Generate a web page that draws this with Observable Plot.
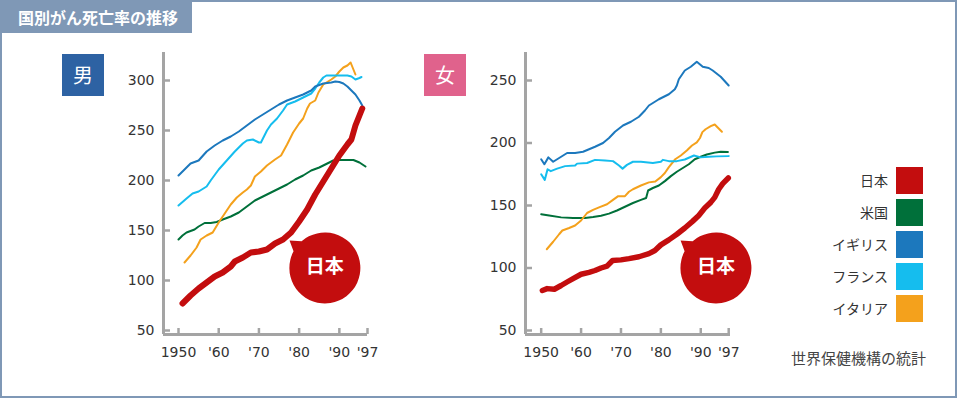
<!DOCTYPE html>
<html><head><meta charset="utf-8">
<script src="https://cdn.jsdelivr.net/npm/d3@7"></script>
<script src="https://cdn.jsdelivr.net/npm/@observablehq/plot@0.6"></script>
<style>
html,body{margin:0;padding:0;background:#fff;}
#wrap{position:relative;width:957px;height:398px;overflow:hidden;font-family:"Noto Sans CJK JP","Noto Sans",sans-serif;background:#fff;}
#border{position:absolute;left:0;top:0;width:957px;height:398px;box-sizing:border-box;border:2px solid #7f98b6;}
#title{position:absolute;left:0;top:0;width:192px;height:33px;background:#7f98b6;color:#fff;font-weight:bold;font-size:16px;line-height:34px;padding-left:18px;box-sizing:border-box;white-space:nowrap;}
.badge{position:absolute;top:54px;width:42px;height:42px;color:#fff;font-size:20px;line-height:42px;text-align:center;}
.plot{position:absolute;top:40px;}
.lg-label{position:absolute;left:760px;width:128px;text-align:right;font-size:14px;line-height:27px;color:#333;white-space:nowrap;}
.lg-sw{position:absolute;left:896px;width:27px;height:27px;}
#caption{position:absolute;left:770px;width:156px;text-align:right;top:349px;font-size:15px;line-height:18px;color:#444;white-space:nowrap;}
</style>
</head><body>
<div id="wrap">
  <div id="border"></div>
  <div id="title">国別がん死亡率の推移</div>
  <div class="badge" style="left:62px;background:#2d62a3;">男</div>
  <div class="badge" style="left:424px;background:#e0628c;">女</div>
  <div id="men" class="plot" style="left:100px;"></div>
  <div id="women" class="plot" style="left:460px;"></div>
  <div id="legend"></div>
  <div id="caption">世界保健機構の統計</div>
</div>
<script>
// ---- categories / labels ----
const seriesNames = ["日本", "米国", "イギリス", "フランス", "イタリア"];
const seriesColors = ["#c30d0e", "#00703a", "#1c78bd", "#15bdee", "#f4a11c"];
const xTickYears = [1950, 1960, 1970, 1980, 1990, 1997];
const xTickLabels = ["1950", "'60", "'70", "'80", "'90", "'97"];
const menYTicks = [50, 100, 150, 200, 250, 300];
const womenYTicks = [50, 100, 150, 200, 250];
const calloutLabel = "日本";

// ---- men (per 100,000) [year, value] ----
const menJapan = [[1951,77],[1953,85],[1955,92],[1957,98],[1959,104],[1961,108],[1963,114],[1964,119],[1966,123],[1968,128],[1970,129],[1972,131],[1974,137],[1976,141],[1978,148],[1980,159],[1982,171],[1984,186],[1986,199],[1988,212],[1990,225],[1992,236],[1993,241],[1994,255],[1995,265],[1995.7,272]];
const menUS = [[1950,141],[1951,145],[1952,148],[1954,151],[1955,154],[1956.5,157.5],[1958,157.5],[1959.5,158.5],[1961,161],[1963,164],[1965,168],[1967,174],[1969,180],[1971,184],[1973,188],[1975,192],[1977,196],[1979,201],[1981,205],[1983,210],[1985,213],[1987,217],[1988.5,220],[1990,220.5],[1992,220.5],[1993.5,220.5],[1995,218],[1996.5,214]];
const menUK = [[1950,205],[1952,213],[1953,217],[1955,220],[1957,229],[1959,235],[1961,240],[1963,244],[1965,249],[1967,255],[1969,261],[1971,266],[1973,271],[1975,276],[1977,280],[1979,283],[1981,286],[1983,290],[1984,294],[1986,297],[1988,298],[1989,299],[1990,298.5],[1991,297],[1992,294],[1993,290],[1994,286],[1995,280],[1995.7,275]];
const menFrance = [[1950,175],[1952,182],[1953.5,187],[1955,189],[1957,194],[1958,200],[1960,211],[1962,220],[1964,229],[1966,237],[1967,240],[1968.5,241],[1970,238],[1970.5,238],[1972,250],[1973,256],[1974.5,262],[1976,270],[1977,276],[1979,279],[1981,283],[1983,287],[1984,292],[1985,298],[1986,303],[1986.8,305],[1992,305],[1993,304],[1994,301],[1995,302.5],[1995.5,303.5]];
const menItaly = [[1951.5,118],[1953,125],[1954.5,133],[1955.5,141],[1957,145],[1958.5,148],[1960,158],[1961.5,167],[1963,176],[1964.5,183],[1966,188],[1967,191],[1968,195],[1969,204],[1970.5,209],[1972,215],[1974,221],[1975.5,225],[1977,236],[1978.5,248],[1980,257],[1981,262],[1982,272],[1982.7,277],[1984,280],[1984.8,288],[1986,296],[1988,301],[1989,304],[1990,309],[1991,313],[1992,315],[1992.8,318],[1994,306]];

// ---- women ----
const womenJapan = [[1950.3,82],[1951.5,83.5],[1953.3,83],[1955,86],[1956.6,89],[1958,91.5],[1960,95],[1962,96.5],[1963.5,98],[1965,100],[1966.5,101.5],[1967.9,106],[1970,106.5],[1972,107.5],[1974.5,109],[1977,111.5],[1978.5,114],[1980,118.5],[1982,122.5],[1984,127],[1986,132],[1988,137.5],[1989.5,142],[1991,148],[1992.5,152.5],[1993.5,156.5],[1994.5,163],[1995.5,167.5],[1996.9,172]];
const womenUS = [[1950,143],[1952,142],[1955,140.5],[1958,140],[1961,140],[1963,140.8],[1965,141.8],[1967,143.5],[1969,146],[1971,149],[1973,152],[1975,154.5],[1976.3,156],[1976.8,162],[1978,164],[1979.5,166],[1981,169.5],[1982.5,173.5],[1984,177],[1985.5,180],[1987,183],[1988.5,187],[1990,189],[1991.5,190.8],[1993.5,192.3],[1995,193],[1996.8,192.8]];
const womenUK = [[1950,187],[1950.8,183],[1951.8,188.5],[1953,185],[1955,189],[1956.5,192],[1958.5,192],[1960.5,193],[1962,195],[1963.5,197],[1965.5,200],[1967,204],[1968.5,209],[1970.5,214],[1972.5,217],[1974.5,221],[1976,226],[1977,230],[1979.5,235],[1982,239],[1983.5,243],[1984,246],[1984.5,251],[1986,258],[1987.5,261],[1989,265],[1990.5,261],[1992,260],[1993,258],[1995,253],[1997,246]];
const womenFrance = [[1950,175],[1950.9,170.5],[1951.6,179],[1952.4,177.5],[1954,179.5],[1956,181.5],[1958.5,182],[1959,183.5],[1961.5,184],[1963.5,186.5],[1966,186],[1968,185.5],[1969.5,182],[1970.4,179.5],[1971.5,182.5],[1973,185],[1975,185],[1978,184],[1980,185],[1980.5,186.5],[1982,185.5],[1984,185.5],[1986,186.8],[1988.3,190],[1990,188.5],[1992,189],[1994,189.3],[1997,189.5]];
const womenItaly = [[1951.4,115],[1953,121],[1954.5,127],[1955.3,130],[1957,132],[1958.5,134],[1960,138],[1961.5,144],[1963,146.5],[1964.5,148.5],[1966.5,151],[1968,154.5],[1969.3,157.5],[1971,157.5],[1972,161],[1973,163],[1975,166],[1977,168.5],[1978.6,169.2],[1980,172.7],[1981,176],[1982,180.7],[1983.6,187],[1985,190],[1986.5,194],[1987.8,198],[1989,200.5],[1989.8,204],[1990.4,208.7],[1991.2,211],[1992.5,213.5],[1993.5,214.8],[1995.3,209]];

// callout anchor (data coords)
const menCallout = [{year: 1986.4, value: 112.5, label: calloutLabel}];
const womenCallout = [{year: 1993.8, value: 100, label: calloutLabel}];

const colorOf = n => seriesColors[seriesNames.indexOf(n)];

// speech-bubble symbol: circle with a small tail to the upper-left
const bubble = {
  draw(ctx, size) {
    const r = Math.sqrt(size / Math.PI);
    const a1 = 208 * Math.PI / 180, a2 = 229 * Math.PI / 180, at = 217.8 * Math.PI / 180;
    const tr = r * 1.26;
    ctx.moveTo(r * Math.cos(a1), r * Math.sin(a1));
    ctx.lineTo(tr * Math.cos(at), tr * Math.sin(at));
    ctx.lineTo(r * Math.cos(a2), r * Math.sin(a2));
    ctx.arc(0, 0, r, a2, a1 + 2 * Math.PI);
    ctx.closePath();
  }
};

function panel(cfg) {
  const all = [cfg.series];
  const rows = [];
  cfg.series.forEach((pts, i) => pts.forEach(([year, value]) => rows.push({name: seriesNames[i], year, value})));
  const plotH = cfg.height - cfg.marginTop - cfg.marginBottom;
  const plotW = cfg.width - cfg.marginLeft - cfg.marginRight;
  const axisColor = "#a4a4a4";
  const order = ["米国", "イタリア", "フランス", "イギリス"];
  return Plot.plot({
    width: cfg.width, height: cfg.height,
    marginLeft: cfg.marginLeft, marginRight: cfg.marginRight,
    marginTop: cfg.marginTop, marginBottom: cfg.marginBottom,
    x: {domain: cfg.xDomain},
    y: {domain: cfg.yDomain},
    style: {fontFamily: "'DejaVu Sans', sans-serif", fontSize: "14px", color: "#333", background: "transparent", overflow: "visible"},
    marks: [
      Plot.axisX({ticks: xTickYears, tickFormat: d => xTickLabels[xTickYears.indexOf(d)], tickSize: 0, tickPadding: 13, label: null}),
      Plot.axisY({ticks: cfg.yTicks, tickSize: 0, tickPadding: 9, label: null}),
      Plot.ruleX(xTickYears, {insetTop: plotH - 6, stroke: axisColor, strokeWidth: 2.5}),
      Plot.ruleY(cfg.yTicks, {insetRight: plotW - 7, stroke: axisColor, strokeWidth: 2.5}),
      Plot.ruleY([cfg.yDomain[0]], {stroke: axisColor, strokeWidth: 3}),
      Plot.ruleX([cfg.xDomain[0]], {stroke: axisColor, strokeWidth: 3}),
      ...order.map(n => Plot.line(rows.filter(r => r.name === n), {x: "year", y: "value", stroke: colorOf(n), strokeWidth: 2, strokeLinejoin: "round", strokeLinecap: "round"})),
      Plot.line(rows.filter(r => r.name === "日本"), {x: "year", y: "value", stroke: colorOf("日本"), strokeWidth: cfg.japanWidth, strokeLinejoin: "round"}),
      Plot.dot(cfg.callout, {x: "year", y: "value", r: 35.5, symbol: bubble, fill: colorOf("日本"), stroke: null}),
      Plot.text(cfg.callout, {x: "year", y: "value", text: "label", fill: "#fff", fontSize: 19, fontWeight: "bold", fontFamily: "'Noto Sans CJK JP', sans-serif", dy: -1})
    ]
  });
}

document.getElementById("men").append(panel({
  series: [menJapan, menUS, menUK, menFrance, menItaly],
  yTicks: menYTicks,
  xDomain: [1946.27, 1997], yDomain: [46, 328],
  width: 290, height: 330, marginLeft: 63, marginRight: 23, marginTop: 12, marginBottom: 36,
  callout: menCallout, japanWidth: 6
}));
document.getElementById("women").append(panel({
  series: [womenJapan, womenUS, womenUK, womenFrance, womenItaly],
  yTicks: womenYTicks,
  xDomain: [1946.07, 1997.45], yDomain: [46.8, 272.4],
  width: 290, height: 330, marginLeft: 65, marginRight: 20, marginTop: 12, marginBottom: 36,
  callout: womenCallout, japanWidth: 5.5
}));

// legend
const legend = document.getElementById("legend");
seriesNames.forEach((n, i) => {
  const top = 167 + i * 32;
  const lab = document.createElement("div");
  lab.className = "lg-label"; lab.style.top = top + "px"; lab.textContent = n;
  const sw = document.createElement("div");
  sw.className = "lg-sw"; sw.style.top = top + "px"; sw.style.background = seriesColors[i];
  legend.append(lab, sw);
});
</script>
</body></html>
